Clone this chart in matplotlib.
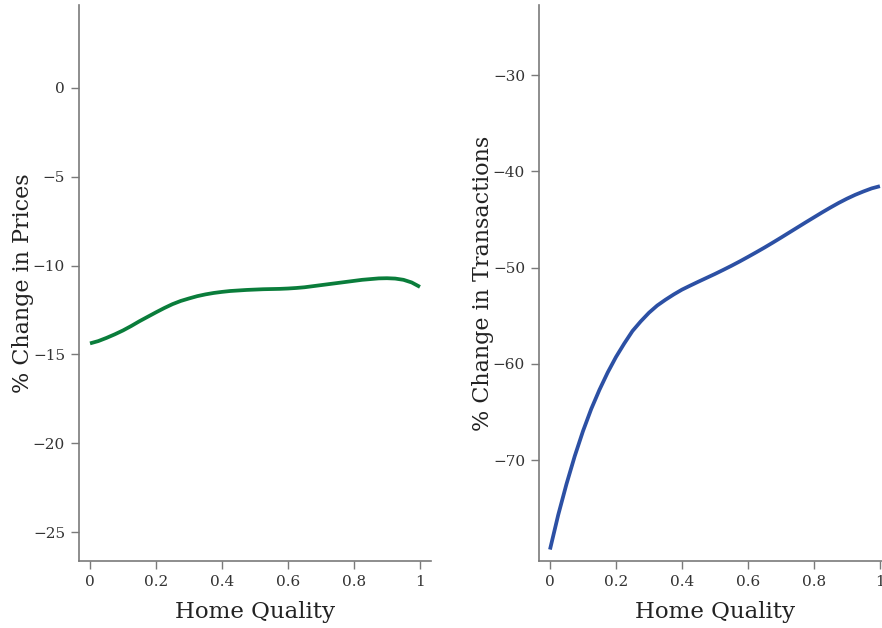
import matplotlib
matplotlib.use("Agg")
import matplotlib.pyplot as plt

# Home quality grid and simulated responses
quality = [0.000, 0.025, 0.050, 0.075, 0.100, 0.125, 0.150, 0.175, 0.200, 0.225,
           0.250, 0.275, 0.300, 0.325, 0.350, 0.375, 0.400, 0.425, 0.450, 0.475,
           0.500, 0.525, 0.550, 0.575, 0.600, 0.625, 0.650, 0.675, 0.700, 0.725,
           0.750, 0.775, 0.800, 0.825, 0.850, 0.875, 0.900, 0.925, 0.950, 0.975,
           1.000]
price_change = [-14.38, -14.25, -14.07, -13.87, -13.65, -13.40, -13.13, -12.88,
                -12.63, -12.39, -12.17, -11.99, -11.85, -11.72, -11.62, -11.54,
                -11.48, -11.43, -11.40, -11.37, -11.35, -11.33, -11.32, -11.31,
                -11.29, -11.26, -11.22, -11.16, -11.10, -11.04, -10.98, -10.92,
                -10.86, -10.80, -10.76, -10.72, -10.71, -10.73, -10.80, -10.95,
                -11.20]
transaction_change = [-79.3, -75.7, -72.5, -69.6, -67.0, -64.7, -62.7, -60.9,
                      -59.3, -57.9, -56.6, -55.6, -54.7, -53.95, -53.35, -52.8,
                      -52.3, -51.88, -51.47, -51.07, -50.67, -50.25, -49.82, -49.37,
                      -48.9, -48.42, -47.93, -47.42, -46.9, -46.37, -45.84, -45.31,
                      -44.79, -44.27, -43.77, -43.29, -42.85, -42.45, -42.1, -41.78,
                      -41.55]

x_ticks = [0, 0.2, 0.4, 0.6, 0.8, 1]
x_tick_labels = ["0", "0.2", "0.4", "0.6", "0.8", "1"]
price_ticks = [0, -5, -10, -15, -20, -25]
transaction_ticks = [-30, -40, -50, -60, -70]

plt.rcParams["font.family"] = ["DejaVu Serif"]
plt.rcParams["axes.unicode_minus"] = True

fig = plt.figure(figsize=(8.82, 6.28), dpi=100)
ax1 = fig.add_axes([0.0896, 0.1067, 0.3990, 0.8853])
ax2 = fig.add_axes([0.6111, 0.1067, 0.3990, 0.8853])

spine_col = "#7a7a7a"
text_col = "#333333"

def style(ax, ylabel, yticks, ylim, color, ydata):
    ax.plot(quality, ydata, color=color, lw=2.7, solid_capstyle="butt",
            solid_joinstyle="round")
    ax.set_xlim(-0.0333, 1.0333)
    ax.set_ylim(*ylim)
    ax.set_xticks(x_ticks)
    ax.set_xticklabels(x_tick_labels)
    ax.set_yticks(yticks)
    for s in ("top", "right"):
        ax.spines[s].set_visible(False)
    for s in ("left", "bottom"):
        ax.spines[s].set_color(spine_col)
        ax.spines[s].set_linewidth(1.2)
    ax.tick_params(direction="out", length=6, width=1.0, color=spine_col,
                   labelsize=11, labelcolor=text_col, pad=4)
    ax.set_xlabel("Home Quality", fontsize=16.5, color="#222222", labelpad=9)
    ax.set_ylabel(ylabel, fontsize=16, color="#222222", labelpad=-1)

style(ax1, "% Change in Prices", price_ticks, (-26.63, 4.67), "#0a7d3b", price_change)
style(ax2, "% Change in Transactions", transaction_ticks, (-80.49, -22.73), "#2c50a4", transaction_change)

fig.savefig("out.png", dpi=100)
